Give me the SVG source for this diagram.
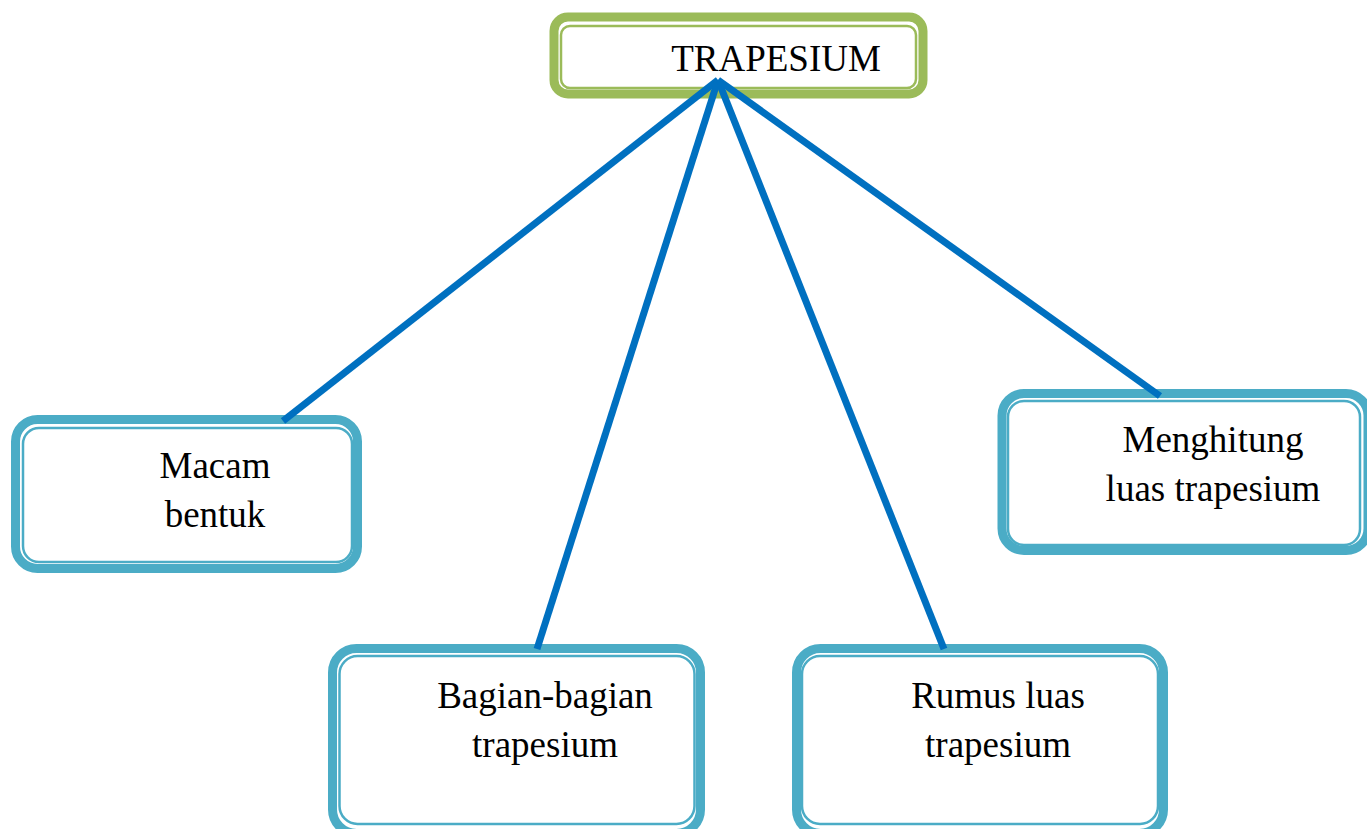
<svg xmlns="http://www.w3.org/2000/svg" width="1367" height="829" viewBox="0 0 1367 829">
<style>
.outerG{fill:#ffffff;stroke:#9BBB59;stroke-width:9}
.innerG{fill:none;stroke:#9BBB59;stroke-width:2.5}
.outerB{fill:#ffffff;stroke:#4BACC6;stroke-width:9}
.innerB{fill:none;stroke:#4BACC6;stroke-width:2.5}
.lbl{font-family:"Liberation Serif","Times New Roman",serif;font-size:37px;fill:#000000;text-anchor:middle}
.conn{stroke:#0070C0;stroke-width:7;fill:none}
</style>
<rect width="1367" height="829" fill="#ffffff"/>
<g id="node-macam">
<rect class="outerB" x="15.5" y="419.5" width="342" height="149" rx="22"/>
<rect class="innerB" x="23" y="428" width="329" height="134" rx="16"/>
<text class="lbl" x="215" y="478">Macam</text>
<text class="lbl" x="215" y="527">bentuk</text>
</g>
<g id="node-menghitung">
<rect class="outerB" x="1002" y="393.5" width="366" height="157" rx="22"/>
<rect class="innerB" x="1008" y="401" width="352" height="144" rx="16"/>
<text class="lbl" x="1213" y="452">Menghitung</text>
<text class="lbl" x="1213" y="501">luas trapesium</text>
</g>
<g id="node-bagian">
<rect class="outerB" x="332.5" y="648.5" width="368" height="185" rx="24"/>
<rect class="innerB" x="339.5" y="656" width="355" height="168" rx="18"/>
<text class="lbl" x="545" y="708">Bagian-bagian</text>
<text class="lbl" x="545" y="757">trapesium</text>
</g>
<g id="node-rumus">
<rect class="outerB" x="796.5" y="648.5" width="367" height="185" rx="24"/>
<rect class="innerB" x="802" y="656" width="356" height="168" rx="18"/>
<text class="lbl" x="998" y="708">Rumus luas</text>
<text class="lbl" x="998" y="757">trapesium</text>
</g>
<g id="node-trapesium">
<rect class="outerG" x="554" y="17" width="369" height="77" rx="14"/>
<rect class="innerG" x="561" y="26" width="355" height="62" rx="9"/>
<text class="lbl" x="776" y="71">TRAPESIUM</text>
</g>
<g id="connectors">
<line class="conn" x1="718" y1="80" x2="283" y2="421"/>
<line class="conn" x1="718" y1="80" x2="537" y2="649"/>
<line class="conn" x1="718" y1="80" x2="944" y2="649"/>
<line class="conn" x1="718" y1="80" x2="1160" y2="396"/>
</g>
</svg>
